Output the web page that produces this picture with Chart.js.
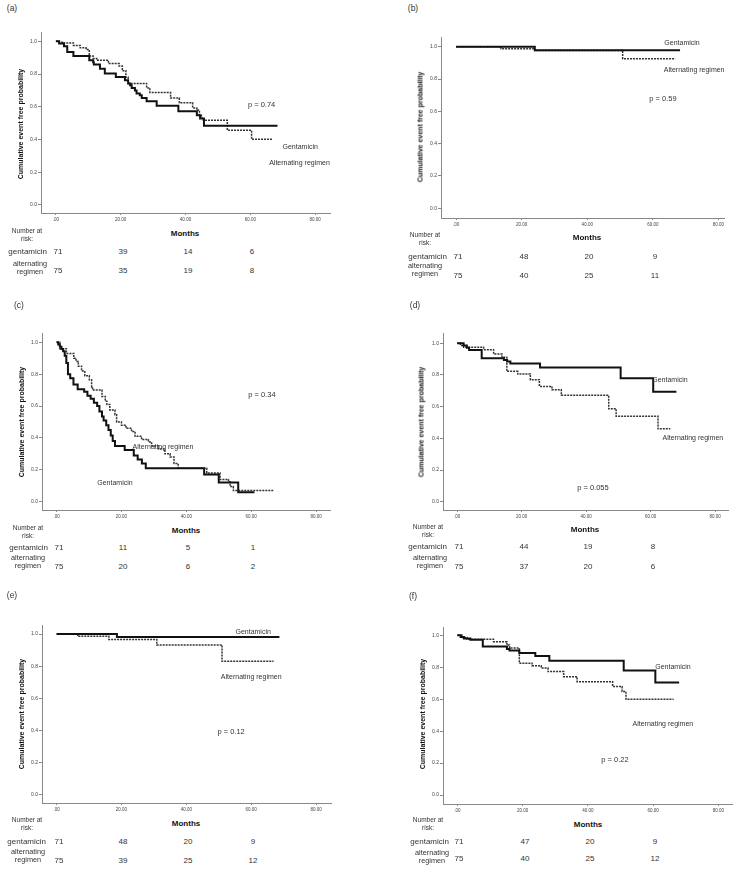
<!DOCTYPE html>
<html>
<head>
<meta charset="utf-8">
<script src="https://cdn.jsdelivr.net/npm/chart.js@4.4.1/dist/chart.umd.min.js"></script>
<style>
  html, body { margin: 0; padding: 0; background: #fff; }
  #page { position: relative; width: 739px; height: 872px; overflow: hidden;
          font-family: "Liberation Sans", Arial, sans-serif; color: #222; }
  #page canvas { position: absolute; }
  .t { position: absolute; white-space: nowrap; transform: translate(-50%, -50%); line-height: 1; }
  .tag { font-size: 8.5px; color: #333; }
  .ytitle { font-weight: bold; font-size: 7px; color: #111; transform: translate(-50%, -50%) rotate(-90deg); }
  .months { font-weight: bold; font-size: 8px; color: #111; }
  .nar { font-size: 6.5px; text-align: center; line-height: 7.5px; color: #333; }
  .row { font-size: 8px; color: #333; }
  .rowlab { transform: translate(-100%, -50%); }
  .alt2 { font-size: 7.3px; text-align: center; line-height: 8px; color: #333; }
</style>
</head>
<body>
<div id="page"></div>
<script>
// ticks
const monthTicks = [0, 20, 40, 60, 80];
const probTicks = [0, 0.2, 0.4, 0.6, 0.8, 1.0];
const riskMonths = [0, 20, 40, 60];

// (a) [month, survival after step]
const gentA = [[0,1],[1,0.986],[2.5,0.97],[3.5,0.935],[5.4,0.91],[10.3,0.884],[11.5,0.872],[11.7,0.858],[13.6,0.833],[15.1,0.803],[18.5,0.782],[21.3,0.762],[22.3,0.742],[22.9,0.732],[23.4,0.715],[24.4,0.70],[24.9,0.681],[25.9,0.67],[26.5,0.654],[28,0.634],[31.1,0.606],[37.8,0.573],[43.5,0.549],[44.5,0.528],[45.7,0.484],[68.4,0.484]];
const altA = [[0,1],[1,0.995],[2,0.99],[5.4,0.975],[7.5,0.96],[9.3,0.95],[10.3,0.91],[11.5,0.895],[12.6,0.884],[16.2,0.864],[19.5,0.85],[20.5,0.82],[21.6,0.78],[22.3,0.742],[28,0.715],[29,0.687],[35.4,0.654],[38.1,0.624],[42.2,0.593],[43.5,0.58],[44.3,0.549],[44.9,0.53],[45.5,0.518],[52.9,0.457],[60.4,0.402],[66.9,0.402]];
const riskGentA = [71, 39, 14, 6];
const riskAltA = [75, 35, 19, 8];

// (b)
const gentB = [[0,1],[24,0.978],[68.3,0.978]];
const altB = [[0,1],[13.7,0.988],[24,0.976],[50.8,0.925],[66.8,0.925]];
const riskGentB = [71, 48, 20, 9];
const riskAltB = [75, 40, 25, 11];

// (c)
const gentC = [[0,1],[0.5,0.986],[1,0.972],[1.5,0.958],[2,0.944],[2.5,0.915],[3,0.87],[3.5,0.80],[4.2,0.775],[5.2,0.735],[6.5,0.705],[8.5,0.69],[9.5,0.665],[10.5,0.645],[11.5,0.62],[12.5,0.60],[13.2,0.565],[14,0.535],[14.5,0.51],[15.3,0.48],[16,0.45],[16.7,0.415],[17.3,0.38],[18,0.35],[21,0.325],[23.8,0.29],[25,0.265],[26.3,0.24],[27.5,0.21],[45.5,0.17],[50,0.12],[56,0.06],[61,0.06]];
const altC = [[0,1],[1,0.96],[3,0.93],[5.3,0.90],[6,0.88],[6.7,0.85],[7.7,0.82],[8.7,0.79],[10.1,0.765],[10.8,0.72],[11.1,0.70],[14,0.66],[15,0.63],[15.5,0.61],[16.4,0.575],[18,0.545],[18.5,0.50],[20,0.48],[21.4,0.46],[23.1,0.44],[24.2,0.41],[26.2,0.39],[28.3,0.375],[29.3,0.35],[31.4,0.33],[33.4,0.30],[35,0.28],[36.2,0.24],[37.5,0.21],[46.3,0.18],[50.4,0.14],[53,0.125],[53.5,0.095],[54.5,0.07],[66.8,0.07]];
const riskGentC = [71, 11, 5, 1];
const riskAltC = [75, 20, 6, 2];

// (d)
const gentD = [[0,1],[2,0.986],[3,0.972],[3.7,0.958],[7.6,0.905],[14.5,0.895],[15.5,0.885],[16.5,0.872],[25.7,0.848],[50.7,0.78],[60.8,0.695],[68,0.695]];
const altD = [[0,1],[1,0.986],[2,0.975],[8.2,0.96],[11.3,0.932],[13.9,0.912],[15.4,0.823],[18.8,0.806],[22.7,0.77],[25.5,0.728],[29.4,0.707],[32.3,0.672],[47,0.587],[49.3,0.539],[62.3,0.461],[66.1,0.461]];
const riskGentD = [71, 44, 19, 8];
const riskAltD = [75, 37, 20, 6];

// (e)
const gentE = [[0,1],[18.6,0.981],[68.7,0.981]];
const altE = [[0,1],[6.5,0.986],[16.1,0.966],[30.9,0.932],[51,0.83],[66.9,0.83]];
const riskGentE = [71, 48, 20, 9];
const riskAltE = [75, 39, 25, 12];

// (f)
const gentF = [[0,1],[1,0.99],[2,0.98],[4,0.972],[7.8,0.93],[15.2,0.915],[16,0.905],[19,0.89],[23.9,0.87],[28.2,0.84],[51,0.78],[60.7,0.705],[68,0.705]];
const altF = [[0,1],[1.5,0.986],[3,0.975],[11.1,0.96],[15.2,0.94],[16,0.92],[19,0.825],[22.9,0.81],[25.7,0.795],[27.8,0.773],[32.6,0.741],[36.7,0.71],[47.6,0.679],[50.5,0.648],[51.7,0.60],[66.3,0.60]];
const riskGentF = [71, 47, 20, 9];
const riskAltF = [75, 40, 25, 12];

const FONT = '"Liberation Sans", Arial, sans-serif';

// layout of each panel (pixels on the page), notes in data units
const panels = [
  { tag: '(a)', gent: gentA, alt: altA, rg: riskGentA, ra: riskAltA,
    box: { l: 41, t: 32, r: 330, b: 213 }, x: [-4.6, 84.6], y: [-0.049, 1.057],
    notes: [{ text: 'p = 0.74', x: 63.5, y: 0.614, size: 7.5 }, { text: 'Gentamicin', x: 75.4, y: 0.356, size: 7 }, { text: 'Alternating regimen', x: 75.2, y: 0.254, size: 7 }],
    pos: { tag: [12, 8], yt: [20, 124], mo: [185, 234], nar: [27, 234], gy: 252, gr: 47, ay: 268, ax: 30, an: 271 } },
  { tag: '(b)', gent: gentB, alt: altB, rg: riskGentB, ra: riskAltB,
    box: { l: 441, t: 37, r: 724, b: 218 }, x: [-4.6, 81.7], y: [-0.06, 1.06],
    notes: [{ text: 'Gentamicin', x: 68.9, y: 1.023, size: 7 }, { text: 'Alternating regimen', x: 72.6, y: 0.856, size: 7 }, { text: 'p = 0.59', x: 63.1, y: 0.676, size: 7.5 }],
    pos: { tag: [413, 8], yt: [420, 127], mo: [587, 238], nar: [425, 238], gy: 257, gr: 447, ay: 270, ax: 425, an: 276 } },
  { tag: '(c)', gent: gentC, alt: altC, rg: riskGentC, ra: riskAltC,
    box: { l: 42, t: 333, r: 330, b: 510 }, x: [-4.5, 84.3], y: [-0.052, 1.058],
    notes: [{ text: 'p = 0.34', x: 63.3, y: 0.669, size: 7.5 }, { text: 'Alternating regimen', x: 32.8, y: 0.343, size: 7 }, { text: 'Gentamicin', x: 18.0, y: 0.117, size: 7 }],
    pos: { tag: [19, 305], yt: [21, 422], mo: [186, 531], nar: [28, 531], gy: 548, gr: 48, ay: 562, ax: 28, an: 567 } },
  { tag: '(d)', gent: gentD, alt: altD, rg: riskGentD, ra: riskAltD,
    box: { l: 443, t: 333, r: 728, b: 510 }, x: [-4.4, 84.0], y: [-0.052, 1.065],
    notes: [{ text: 'Gentamicin', x: 66.0, y: 0.768, size: 7 }, { text: 'Alternating regimen', x: 73.1, y: 0.402, size: 7 }, { text: 'p = 0.055', x: 42.1, y: 0.086, size: 7.5 }],
    pos: { tag: [415, 305], yt: [421, 422], mo: [585, 530], nar: [428, 530], gy: 547, gr: 447, ay: 562, ax: 430, an: 567 } },
  { tag: '(e)', gent: gentE, alt: altE, rg: riskGentE, ra: riskAltE,
    box: { l: 42, t: 625, r: 331, b: 803 }, x: [-4.5, 84.6], y: [-0.05, 1.056],
    notes: [{ text: 'Gentamicin', x: 60.6, y: 1.012, size: 7 }, { text: 'Alternating regimen', x: 60.0, y: 0.733, size: 7 }, { text: 'p = 0.12', x: 53.8, y: 0.391, size: 7.5 }],
    pos: { tag: [12, 595], yt: [21, 714], mo: [186, 824], nar: [27, 823], gy: 842, gr: 46, ay: 856, ax: 28, an: 861 } },
  { tag: '(f)', gent: gentF, alt: altF, rg: riskGentF, ra: riskAltF,
    box: { l: 443, t: 627, r: 732, b: 804 }, x: [-4.4, 84.2], y: [-0.056, 1.052],
    notes: [{ text: 'Gentamicin', x: 66.1, y: 0.80, size: 7 }, { text: 'Alternating regimen', x: 63.0, y: 0.446, size: 7 }, { text: 'p = 0.22', x: 48.3, y: 0.22, size: 7.5 }],
    pos: { tag: [413, 596], yt: [422, 714], mo: [588, 825], nar: [428, 823], gy: 842, gr: 449, ay: 857, ax: 432, an: 859 } }
];

const page = document.getElementById('page');

function addText(cls, html, x, y) {
  const d = document.createElement('div');
  d.className = 't ' + cls;
  d.innerHTML = html;
  d.style.left = Math.round(x) + 'px';
  d.style.top = Math.round(y) + 'px';
  page.appendChild(d);
  return d;
}

// text labels drawn inside the plot
const notesPlugin = {
  id: 'notes',
  afterDatasetsDraw(chart, args, opts) {
    const ctx = chart.ctx, xs = chart.scales.x, ys = chart.scales.y;
    ctx.save();
    ctx.fillStyle = '#333';
    ctx.textAlign = 'center';
    ctx.textBaseline = 'middle';
    (opts.items || []).forEach(n => {
      ctx.font = n.size + 'px ' + FONT;
      ctx.fillText(n.text, xs.getPixelForValue(n.x), ys.getPixelForValue(n.y));
    });
    ctx.restore();
  }
};

function toPts(arr) {
  return arr.map(p => ({ x: p[0], y: p[1] }));
}

panels.forEach(p => {
  const padL = 28, padT = 6, padR = 6, padB = 16;
  const w = p.box.r - p.box.l + padL + padR;
  const h = p.box.b - p.box.t + padT + padB;
  const left = p.box.l - padL, top = p.box.t - padT;

  const cv = document.createElement('canvas');
  cv.width = w;
  cv.height = h;
  cv.style.left = left + 'px';
  cv.style.top = top + 'px';
  page.appendChild(cv);

  const chart = new Chart(cv.getContext('2d'), {
    type: 'line',
    data: {
      datasets: [
        { label: 'Gentamicin', data: toPts(p.gent), stepped: true, borderColor: '#111',
          borderWidth: 2, pointRadius: 0, fill: false },
        { label: 'Alternating regimen', data: toPts(p.alt), stepped: true, borderColor: '#333',
          borderWidth: 1.5, borderDash: [2, 1], pointRadius: 0, fill: false }
      ]
    },
    options: {
      responsive: false,
      animation: false,
      events: [],
      layout: { padding: { left: 0, top: padT, right: padR, bottom: 0 } },
      plugins: {
        legend: { display: false },
        tooltip: { enabled: false },
        notes: { items: p.notes }
      },
      scales: {
        x: {
          type: 'linear', min: p.x[0], max: p.x[1],
          afterBuildTicks: s => { s.ticks = monthTicks.map(v => ({ value: v })); },
          afterFit: s => { s.height = padB; },
          ticks: {
            callback: v => v === 0 ? '.00' : v.toFixed(2),
            font: { size: 4.5, family: FONT }, color: '#444', padding: 2,
            maxRotation: 0, autoSkip: false
          },
          grid: { display: true, drawOnChartArea: false, drawTicks: true, tickLength: 2, color: '#888' },
          border: { display: true, color: '#888', width: 1 }
        },
        y: {
          type: 'linear', min: p.y[0], max: p.y[1],
          afterBuildTicks: s => { s.ticks = probTicks.map(v => ({ value: v })); },
          afterFit: s => { s.width = padL; },
          ticks: {
            callback: v => v.toFixed(1),
            font: { size: 5, family: FONT }, color: '#444', padding: 1
          },
          grid: { display: true, drawOnChartArea: false, drawTicks: true, tickLength: 3, color: '#888' },
          border: { display: true, color: '#888', width: 1 }
        }
      }
    },
    plugins: [notesPlugin]
  });

  const q = p.pos;
  addText('tag', p.tag, q.tag[0], q.tag[1]);
  addText('ytitle', 'Cumulative event free probability', q.yt[0], q.yt[1]);
  addText('months', 'Months', q.mo[0], q.mo[1]);
  addText('nar', 'Number at<br>risk:', q.nar[0], q.nar[1]);
  addText('row rowlab', 'gentamicin', q.gr, q.gy);
  addText('alt2', 'alternating<br>regimen', q.ax, q.ay);

  // number at risk under the month ticks
  riskMonths.forEach((m, i) => {
    const px = left + chart.scales.x.getPixelForValue(m) + 2;
    addText('row', String(p.rg[i]), px, q.gy);
    addText('row', String(p.ra[i]), px, q.an);
  });
});
</script>
</body>
</html>
